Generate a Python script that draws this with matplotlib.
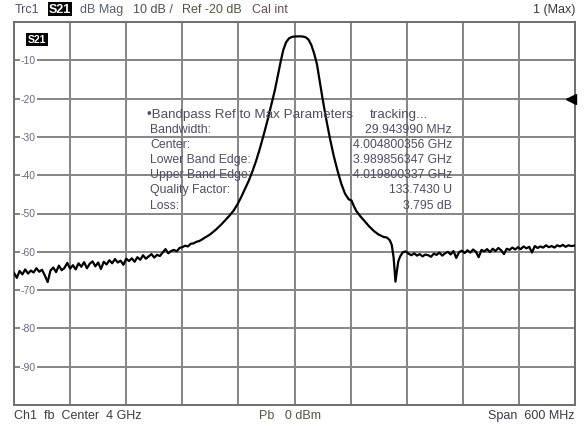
import numpy as np
import matplotlib.pyplot as plt

# Sweep settings (VNA screen)
f_start = 3.7   # GHz
f_stop = 4.3    # GHz
y_top = 0
y_bottom = -100

# Noise floor below the passband (3 MHz step from 3.700 GHz)
low_db = [-65.5, -66.8, -65.0, -65.9, -64.6, -65.7, -64.9, -65.4, -64.3, -65.2,
          -64.7, -66.2, -67.9, -64.9, -64.1, -65.3, -63.6, -64.8, -64.2, -62.9,
          -64.4, -63.5, -64.6, -63.0, -63.9, -62.7, -64.3, -63.1, -62.5, -63.8,
          -62.8, -64.5, -62.6, -63.3, -62.2, -63.0, -61.9, -62.8, -62.3, -63.4,
          -61.8, -62.4, -61.7, -62.6, -61.4, -62.1, -60.9, -61.8, -61.2, -60.6,
          -61.5, -60.8, -61.1, -60.2, -59.3, -60.4, -59.8, -59.5, -59.9, -59.0,
          -58.8, -58.4, -58.6, -57.9, -57.8, -57.4, -57.2, -56.8, -56.3, -55.9,
          -55.4, -54.8, -54.2, -53.5, -52.8, -52.0, -51.2]
low_f = 3.700 + 0.003 * np.arange(len(low_db))

# Passband / skirts
band_f = [3.931, 3.935, 3.939, 3.943, 3.947, 3.951, 3.955, 3.959, 3.963, 3.967,
          3.971, 3.975, 3.979, 3.982, 3.985, 3.988, 3.991, 3.994, 3.997, 4.000,
          4.003, 4.006, 4.009, 4.012, 4.015, 4.018, 4.021, 4.024, 4.027, 4.030,
          4.034, 4.038, 4.042, 4.046, 4.050, 4.054, 4.058, 4.061, 4.063, 4.066,
          4.070, 4.075, 4.080, 4.085, 4.090, 4.095, 4.099, 4.102, 4.104, 4.106,
          4.108, 4.1095, 4.111, 4.113, 4.116, 4.119]
band_db = [-50.4, -49.2, -47.6, -45.7, -43.6, -41.5, -39.0, -36.2, -33.0, -29.5,
           -25.8, -21.8, -17.8, -14.2, -10.6, -7.3, -5.3, -4.3, -3.9, -3.8,
           -3.75, -3.75, -3.8, -4.0, -4.6, -6.0, -8.2, -11.0, -15.5, -20.0,
           -25.5, -30.5, -35.0, -38.8, -42.2, -44.8, -46.3, -46.6, -47.8, -49.3,
           -50.6, -52.0, -53.4, -54.6, -55.5, -56.1, -56.3, -57.0, -58.2, -61.5,
           -67.8, -65.0, -62.5, -61.2, -60.1, -59.9]

# Noise floor above the passband (3 MHz step from 4.122 GHz)
high_db = [-60.5, -60.9, -60.4, -61.0, -60.6, -61.2, -60.7, -60.9, -61.3, -60.5,
           -60.8, -60.2, -61.0, -60.4, -60.0, -60.7, -59.8, -61.6, -60.1, -59.7,
           -60.3, -59.6, -60.2, -59.4, -60.0, -61.4, -59.5, -59.9, -59.3, -60.1,
           -59.2, -59.8, -59.0, -59.6, -60.6, -59.2, -59.5, -58.9, -59.4, -58.8,
           -59.3, -58.6, -59.1, -58.7, -60.2, -58.5, -59.0, -58.6, -58.9, -58.3,
           -58.8, -58.5, -58.9, -58.3, -58.6, -58.2, -58.7, -58.3, -58.5, -58.4]
high_f = 4.122 + 0.003 * np.arange(len(high_db))

freq = np.concatenate([low_f, band_f, high_f])
s21 = np.concatenate([low_db, band_db, high_db])

y_labels = [-10, -20, -30, -40, -50, -60, -70, -80, -90]
ref_level = -20

param_names = ['\u2022Bandpass Ref to Max Parameters', 'Bandwidth:', 'Center:',
               'Lower Band Edge:', 'Upper Band Edge:', 'Quality Factor:', 'Loss:']
param_values = ['', '29.943990 MHz', '4.004800356 GHz', '3.989856347 GHz',
                '4.019800337 GHz', '133.7430 U', '3.795 dB']

plt.rcParams['font.family'] = ['Liberation Sans', 'DejaVu Sans']

W, H = 587, 427
fig = plt.figure(figsize=(W / 100, H / 100), dpi=100)
ax = fig.add_axes([14 / W, (H - 406) / H, 561 / W, 383 / H])

ax.set_xlim(f_start, f_stop)
ax.set_ylim(y_bottom, y_top)
ax.set_xticks(np.linspace(f_start, f_stop, 11))
ax.set_yticks(np.arange(y_bottom, y_top + 1, 10))
ax.tick_params(length=0, labelbottom=False, labelleft=False)
ax.grid(True, color='#858585', lw=1.4)
for s in ax.spines.values():
    s.set_color('#707070')
    s.set_linewidth(1.4)

ax.plot(freq, s21, color='black', lw=1.6, zorder=3)

# reference level marker on the right edge
ax.plot(f_stop - 0.0045, ref_level, marker='<', ms=7, color='black',
        clip_on=False, zorder=4)

# y labels drawn inside the grid
for v in y_labels:
    ax.text(0.012, v, str(v), transform=ax.get_yaxis_transform(),
            fontsize=7.5, color='#6a6a86', va='center', ha='left',
            bbox=dict(boxstyle='square,pad=0.1', fc='white', ec='none'))

ax.text(23 / 561, 0.955, 'S21', transform=ax.transAxes, fontsize=7.5,
        fontweight='bold', color='white', va='center', ha='center',
        bbox=dict(boxstyle='square,pad=0.15', fc='black', ec='none'))


def px(x, y):
    return x / W, 1 - y / H


# header line
hy = 10
fig.text(*px(15, hy), 'Trc1', fontsize=9, color='#5b4e6e', va='center')
fig.text(*px(60, hy), 'S21', fontsize=9, fontweight='bold', color='white',
         va='center', ha='center',
         bbox=dict(boxstyle='square,pad=0.1', fc='black', ec='none'))
fig.text(*px(80, hy), 'dB Mag', fontsize=9, color='#55606e', va='center')
fig.text(*px(133, hy), '10 dB /', fontsize=9, color='#4e4e4e', va='center')
fig.text(*px(182, hy), 'Ref -20 dB', fontsize=9, color='#4f5a3c', va='center')
fig.text(*px(252, hy), 'Cal int', fontsize=9, color='#6e4a4a', va='center')
fig.text(*px(575, hy), '1 (Max)', fontsize=9, color='#3a3a3a', va='center', ha='right')

# footer line
fy = 416
fig.text(*px(14, fy), 'Ch1  fb  Center  4 GHz', fontsize=9, color='#3a3a4a', va='center')
fig.text(*px(290, fy), 'Pb   0 dBm', fontsize=9, color='#4f5a3c', va='center', ha='center')
fig.text(*px(575, fy), 'Span  600 MHz', fontsize=9, color='#3a3a4a', va='center', ha='right')

# bandpass parameter readout
line_y = [115, 130, 145, 160.5, 175.5, 190.5, 206]
for i, (name, val) in enumerate(zip(param_names, param_values)):
    if i == 0:
        fig.text(*px(147, line_y[i]), name, fontsize=9.6, color='#524c66', va='center')
        continue
    fig.text(*px(150, line_y[i]), name, fontsize=8.8, color='#524c66', va='center')
    fig.text(*px(452, line_y[i]), val, fontsize=8.8, color='#524c66',
             va='center', ha='right')
fig.text(*px(370, line_y[0]), 'tracking...', fontsize=9.6, color='#524c66', va='center')

fig.savefig('out.png', dpi=100)
